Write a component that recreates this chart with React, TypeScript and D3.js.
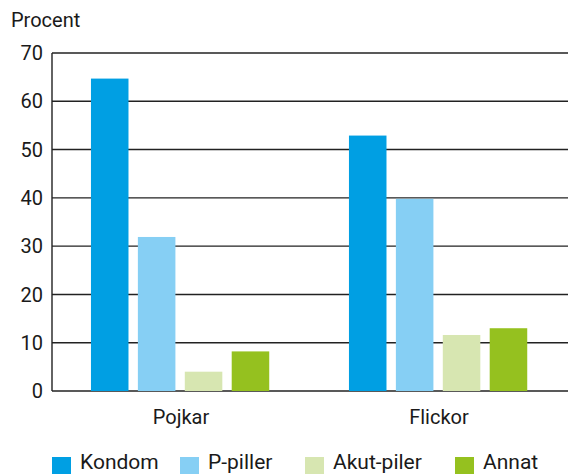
import React from "react";
import * as d3 from "d3";

const groups = ["Pojkar", "Flickor"];
const series = ["Kondom", "P-piller", "Akut-piler", "Annat"];
const kondom = [64.7, 52.9];
const ppiller = [31.9, 39.8];
const akut = [4.0, 11.6];
const annat = [8.2, 13.0];
const colors = ["#009FE3", "#86CFF4", "#D7E6B1", "#95C11F"];
const yTicks = [0, 10, 20, 30, 40, 50, 60, 70];
const yLabel = "Procent";

const W = 568;
const H = 474;
const left = 52;
const right = 568;
const top = 53;
const bottom = 391;
const font = "Roboto, 'Open Sans', sans-serif";
const legendX = [52, 180, 305, 455];

export default function App() {
  const values = [kondom, ppiller, akut, annat];
  const y = d3.scaleLinear().domain([0, 70]).range([bottom, top]);
  const x0 = d3.scaleBand<string>().domain(groups).range([left, right]).padding(0);
  const bw = x0.bandwidth();
  const x1 = d3
    .scaleBand<string>()
    .domain(series)
    .range([bw * 0.151, bw * 0.842])
    .paddingInner(0.2)
    .paddingOuter(0);

  return (
    <svg
      width={W}
      height={H}
      style={{ position: "absolute", left: 0, top: 0, background: "#fff" }}
      fontFamily={font}
    >
      <text x={11} y={27} fontSize={20} fill="#1a1a1a">
        {yLabel}
      </text>
      {yTicks.map((t) => (
        <g key={t}>
          <line x1={left} x2={right} y1={y(t)} y2={y(t)} stroke="#222" strokeWidth={1.4} />
          <text
            x={43}
            y={y(t)}
            dy="0.36em"
            textAnchor="end"
            fontSize={20}
            fill="#1a1a1a"
          >
            {t}
          </text>
        </g>
      ))}
      <line x1={left} x2={left} y1={top} y2={bottom} stroke="#222" strokeWidth={1.4} />
      {groups.map((g, gi) => (
        <g key={g} transform={`translate(${x0(g)},0)`}>
          {series.map((s, si) => (
            <rect
              key={s}
              x={x1(s)}
              width={x1.bandwidth()}
              y={y(values[si][gi])}
              height={y(0) - y(values[si][gi])}
              fill={colors[si]}
            />
          ))}
          <text
            x={bw / 2}
            y={424}
            textAnchor="middle"
            fontSize={20}
            fill="#1a1a1a"
          >
            {g}
          </text>
        </g>
      ))}
      {series.map((s, si) => (
        <g key={s} transform={`translate(${legendX[si]},0)`}>
          <rect x={0} y={457} width={19} height={17} fill={colors[si]} />
          <text x={28} y={469} fontSize={21} fill="#1a1a1a">
            {s}
          </text>
        </g>
      ))}
    </svg>
  );
}
